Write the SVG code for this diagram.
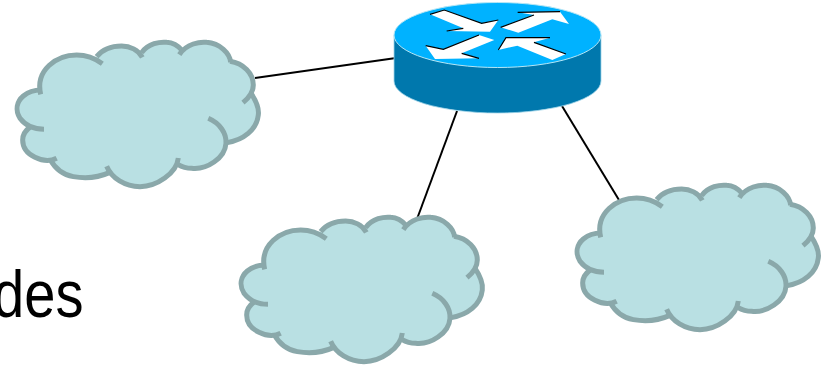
<svg xmlns="http://www.w3.org/2000/svg" xmlns:xlink="http://www.w3.org/1999/xlink" width="831" height="365" viewBox="0 0 831 365">
<style>
.cf{fill:#b9e0e3;stroke:none}
.cs{fill:none;stroke:#8aa8aa;stroke-width:15}
.link{stroke:#000;stroke-width:2;fill:none}
.arr{fill:#fff;stroke:none}
.sh{fill:none;stroke:#000;stroke-width:3.5}
.lbl{font-family:"Liberation Sans",Arial,sans-serif;font-size:66px;fill:#000}
</style>
<defs>
<g id="cloud" transform="scale(0.3333)">
<path class="cf" d="M120,185 C110,120 170,75 230,75 C250,75 275,80 290,80 C310,55 340,48 365,48 C390,48 410,60 427,68 C445,40 480,35 500,37 C520,38 535,48 545,55 C560,40 600,35 620,37 C660,40 690,70 692,95 C730,100 760,130 760,165 C760,175 757,182 755,190 C770,215 778,235 775,255 C770,300 730,330 682,338 C675,385 620,420 575,415 C560,415 545,410 533,403 C530,430 470,470 420,470 C375,470 335,445 325,428 C290,445 250,445 220,440 C190,435 165,415 152,390 C135,393 125,392 105,382 C80,370 68,350 68,330 C68,315 78,300 92,290 C75,285 70,278 60,265 C45,240 50,215 70,198 C85,185 105,180 120,185Z"/>
<path class="cs" d="M122,193 C105,120 170,75 230,75 C255,75 285,85 307,101"/>
<path class="cs" d="M290,80 C310,55 340,48 365,48 C390,48 415,60 427,82"/>
<path class="cs" d="M425,68 C445,40 480,35 500,37 C520,38 535,48 547,62"/>
<path class="cs" d="M538,74 C560,40 600,35 620,37 C660,40 690,70 692,97"/>
<path class="cs" d="M690,94 C730,100 760,130 760,165 C760,185 745,205 729,218"/>
<path class="cs" d="M752,188 C770,215 778,235 775,255 C770,300 730,330 682,338"/>
<path class="cs" d="M625,265 C660,280 680,310 678,340 C675,385 620,420 575,415 C560,415 545,410 533,403"/>
<path class="cs" d="M535,384 C530,430 470,470 420,470 C375,470 335,445 320,409"/>
<path class="cs" d="M328,428 C290,445 250,445 220,440 C190,435 165,415 150,388"/>
<path class="cs" d="M170,385 C150,395 125,392 105,382 C80,370 68,350 68,330 C68,315 78,300 92,290"/>
<path class="cs" d="M132,298 C100,298 75,285 60,265 C45,240 50,215 70,198 C85,185 105,180 124,180"/>
</g>
</defs>
<g id="connectors">
<line class="link" x1="255" y1="78" x2="396" y2="58"/>
<line class="link" x1="457" y1="111" x2="417" y2="219"/>
<line class="link" x1="562" y1="106" x2="619" y2="200"/>
</g>
<g id="cloud-left"><use xlink:href="#cloud" href="#cloud" x="0" y="30"/></g>
<g id="cloud-middle"><use xlink:href="#cloud" href="#cloud" x="224" y="205"/></g>
<g id="cloud-right"><use xlink:href="#cloud" href="#cloud" x="560" y="173"/></g>
<g id="router">
<path d="M394,35 V81 A103.5,32 0 0 0 601,81 V35Z" fill="#0078ad"/>
<path d="M394,81 A103.5,32 0 0 0 601,81 M394,35 V81 M601,35 V81" fill="none" stroke="#9fd4e8" stroke-width="0.8"/>
<ellipse cx="497.5" cy="35" rx="103.5" ry="32.5" fill="#00b2ff" stroke="#b5e6f5" stroke-width="1"/>
<g transform="translate(380,0) scale(0.3333)">
<path class="arr" d="M150,43 L193,30 L305,70 L355,60 L330,95 L200,93 L250,85Z"/>
<path class="arr" d="M362,82 L462,45 L413,37 L540,35 L567,72 L517,58 L415,98Z"/>
<path class="arr" d="M137,137 L190,148 L297,105 L343,120 L245,160 L297,175 L165,177Z"/>
<path class="arr" d="M355,150 L378,113 L510,113 L462,127 L558,162 L517,180 L412,137Z"/>
<path class="sh" d="M150,43 L193,30 L305,70 L355,60 M200,93 L250,85"/>
<path class="sh" d="M362,82 L462,45 M413,37 L540,35"/>
<path class="sh" d="M137,137 L190,148 L297,105 M245,160 L297,175"/>
<path class="sh" d="M355,150 L378,113 L510,113 M462,127 L558,162"/>
</g>
</g>
<text class="lbl" transform="translate(-7,317) scale(0.85,1)">des</text>
</svg>
